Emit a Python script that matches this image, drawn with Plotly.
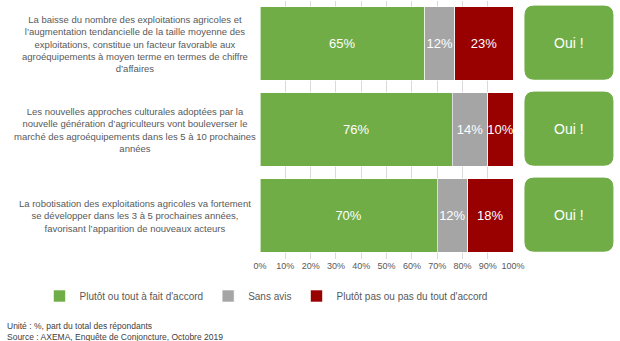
import plotly.graph_objects as go

questions = [
    "La baisse du nombre des exploitations agricoles et<br>l’augmentation tendancielle de la taille moyenne des<br>exploitations, constitue un facteur favorable aux<br>agroéquipements à moyen terme en termes de chiffre<br>d’affaires",
    "Les nouvelles approches culturales adoptées par la<br>nouvelle génération d’agriculteurs vont bouleverser le<br>marché des agroéquipements dans les 5 à 10 prochaines<br>années",
    "La robotisation des exploitations agricoles va fortement<br>se développer dans les 3 à 5 prochaines années,<br>favorisant l’apparition de nouveaux acteurs",
]
series_names = ["Plutôt ou tout à fait d'accord", "Sans avis", "Plutôt pas ou pas du tout d'accord"]
accord = [65, 76, 70]
sans_avis = [12, 14, 12]
pas_accord = [23, 10, 18]
verdicts = ["Oui !", "Oui !", "Oui !"]
tick_vals = [0, 10, 20, 30, 40, 50, 60, 70, 80, 90, 100]
tick_text = ["0%", "10%", "20%", "30%", "40%", "50%", "60%", "70%", "80%", "90%", "100%"]

colors = ["#70ad47", "#a5a5a5", "#990000"]
FONT = "Liberation Sans, Arial, sans-serif"
W, H = 620, 341
pos = list(range(len(questions)))


def px(s):
    # screen pixel -> paper fraction (observed render maps paper to ~[2, 610])
    return (s - 2) / 608


fig = go.Figure()
for name, vals, col in zip(series_names, [accord, sans_avis, pas_accord], colors):
    fig.add_trace(go.Bar(
        y=pos, x=vals, name=name, orientation="h",
        marker=dict(color=col, line=dict(color="white", width=0.6)),
        text=[f"{v}%" for v in vals], textposition="inside", insidetextanchor="middle",
        textangle=0, constraintext="none",
        textfont=dict(color="white", size=13, family=FONT),
        width=0.85, hoverinfo="skip",
    ))

# left question annotations
for p, q in zip(pos, questions):
    fig.add_annotation(x=px(131), xref="paper", y=p, yref="y", text=q, showarrow=False,
                       font=dict(size=9.5, color="#595959", family=FONT), align="center",
                       xanchor="center", yanchor="middle")

# rounded "Oui !" boxes
x0, x1 = px(526), px(615)
rx = 9 / 608
ry = 9 / 86
for p, v in zip(pos, verdicts):
    y0, y1 = p - 0.425 - 0.01, p + 0.425 - 0.01
    path = (f"M {x0+rx},{y0} L {x1-rx},{y0} Q {x1},{y0} {x1},{y0+ry} "
            f"L {x1},{y1-ry} Q {x1},{y1} {x1-rx},{y1} L {x0+rx},{y1} "
            f"Q {x0},{y1} {x0},{y1-ry} L {x0},{y0+ry} Q {x0},{y0} {x0+rx},{y0} Z")
    fig.add_shape(type="path", path=path, xref="paper", yref="y",
                  fillcolor="#70ad47", line=dict(color="#70ad47", width=1), layer="above")
    fig.add_annotation(x=(x0 + x1) / 2, xref="paper", y=p - 0.01, yref="y", text=v, showarrow=False,
                       font=dict(size=14, color="white", family=FONT), xanchor="center", yanchor="middle")

# footnotes
fig.add_annotation(x=px(0), xref="paper", y=1 - 326 / H, yref="paper",
                   text="Unité : %, part du total des répondants", showarrow=False,
                   font=dict(size=8.5, color="#404040", family=FONT), xanchor="left", yanchor="middle")
fig.add_annotation(x=px(0), xref="paper", y=1 - 337 / H, yref="paper",
                   text="Source : AXEMA, Enquête de Conjoncture, Octobre 2019", showarrow=False,
                   font=dict(size=8.5, color="#404040", family=FONT), xanchor="left", yanchor="middle")

fig.update_layout(
    width=W, height=H, barmode="stack", bargap=0.15, autosize=False,
    margin=dict(l=0, r=0, t=0, b=0),
    paper_bgcolor="white", plot_bgcolor="white",
    font=dict(family=FONT, color="#595959"),
    xaxis=dict(domain=[px(258), px(514)], range=[0, 100], tickvals=tick_vals, ticktext=tick_text,
               tickangle=0, showgrid=True, gridcolor="#d9d9d9", gridwidth=1, zeroline=False,
               tickfont=dict(size=9, color="#595959", family=FONT), ticks="", ticklen=0,
               fixedrange=True),
    yaxis=dict(domain=[1 - 258.5 / H, 1 - 0.5 / H], range=[2.5, -0.5], showticklabels=False,
               showgrid=False, zeroline=False, fixedrange=True),
    legend=dict(orientation="h", x=px(264), xanchor="center", y=1 - 296 / H, yanchor="middle",
                font=dict(size=10, color="#595959", family=FONT), traceorder="normal",
                itemwidth=30, bgcolor="rgba(0,0,0,0)"),
    showlegend=True,
)

fig.write_html("out.html")
